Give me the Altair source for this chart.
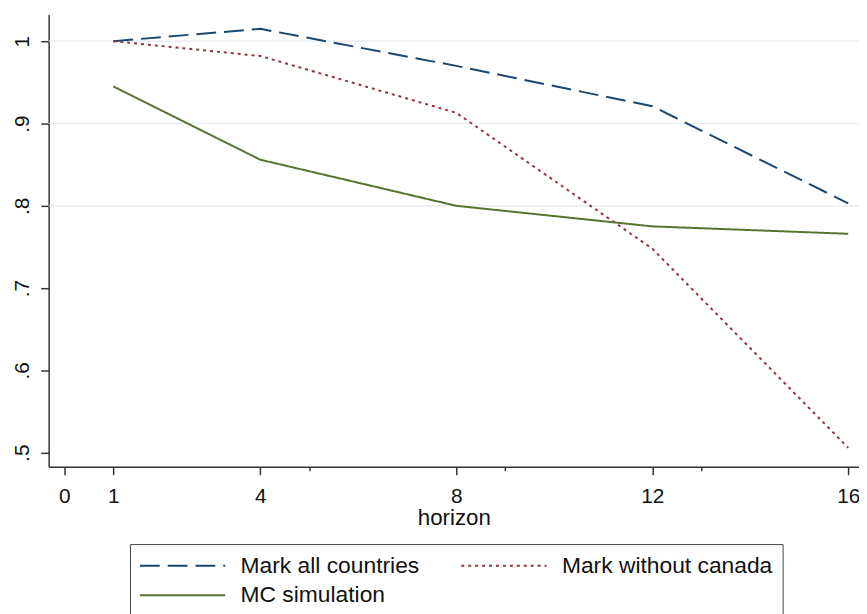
import altair as alt
import pandas as pd

horizon = [1, 4, 8, 12, 16]
mark_all = [1.000, 1.015, 0.970, 0.921, 0.803]
mark_wo_canada = [1.000, 0.982, 0.913, 0.748, 0.506]
mc_sim = [0.945, 0.856, 0.800, 0.775, 0.766]

series_names = ["Mark all countries", "Mark without canada", "MC simulation"]
series_colors = ["#1a476f", "#90353b", "#55752f"]
series_dashes = [[20, 8], [3, 4], [1, 0]]

x_labels = [0, 1, 4, 8, 12, 16]
x_minor = [5, 9, 13]
y_labels = [0.5, 0.6, 0.7, 0.8, 0.9, 1.0]
y_grid = [0.8, 0.9, 1.0]

rows = []
for name, vals in zip(series_names, [mark_all, mark_wo_canada, mc_sim]):
    for h, v in zip(horizon, vals):
        rows.append({"horizon": h, "value": v, "series": name})
df = pd.DataFrame(rows)

FONT = "Liberation Sans"
xscale = alt.Scale(domain=[-0.32, 16.22], nice=False, zero=False)
yscale = alt.Scale(domain=[0.483, 1.0325], nice=False, zero=False)

y_axis = alt.Axis(values=y_labels, title=None, tickSize=8, orient="left",
                  labelAngle=270, labelAlign="center",
                  labelBaseline="bottom", labelPadding=8,
                  labelFontSize=21, grid=False,
                  labelExpr="datum.value >= 0.999 ? '1' : replace(format(datum.value, '.1f'), '0.', '.')")

legend = alt.Legend(title=None, orient="none", legendX=82, legendY=534,
                    columns=2, direction="horizontal",
                    symbolType="M-4.3,0H4.3", symbolSize=400,
                    symbolStrokeWidth=2, symbolOffset=31.5,
                    labelFontSize=23, labelOffset=47,
                    columnPadding=38, rowPadding=6, padding=10,
                    strokeColor="#444", fillColor="white",
                    labelLimit=400)

grid = alt.Chart(pd.DataFrame({"g": y_grid})).mark_rule(
    color="#e4eaed", strokeWidth=1.2
).encode(y=alt.Y("g:Q", scale=yscale, axis=y_axis))

lines = alt.Chart(df).mark_line(strokeWidth=2).encode(
    x=alt.X("horizon:Q", scale=xscale,
            axis=alt.Axis(values=x_labels, orient="bottom", title="horizon",
                          tickSize=8, labelPadding=11, labelFontSize=21,
                          titleFontSize=22.5, titleFontWeight="normal",
                          titlePadding=0, grid=False, labelFlush=False)),
    y=alt.Y("value:Q", scale=yscale, axis=y_axis),
    color=alt.Color("series:N", sort=series_names,
                    scale=alt.Scale(domain=series_names, range=series_colors),
                    legend=legend),
    strokeDash=alt.StrokeDash("series:N", sort=series_names,
                              scale=alt.Scale(domain=series_names, range=series_dashes),
                              legend=legend),
)

minor = alt.Chart(pd.DataFrame({"m": x_minor})).mark_point(opacity=0).encode(
    x=alt.X("m:Q", scale=xscale,
            axis=alt.Axis(values=x_minor, orient="bottom", labels=False, tickSize=4,
                          domain=False, grid=False, title=None))
)

chart = alt.layer(grid, lines, minor).resolve_axis(x="independent").properties(
    width=817, height=456,
    autosize=alt.AutoSizeParams(type="none"),
    padding={"left": 41, "top": 4, "right": 0, "bottom": 146},
    background="white",
).configure_view(stroke=None).configure_axis(
    domainColor="#333", domainWidth=1.5, tickColor="#333", tickWidth=1.5,
    labelColor="#111", titleColor="#111", labelFont=FONT, titleFont=FONT,
).configure_legend(labelFont=FONT, labelColor="#111")

chart.save("out.html", embed_options={"renderer": "svg", "actions": False})
